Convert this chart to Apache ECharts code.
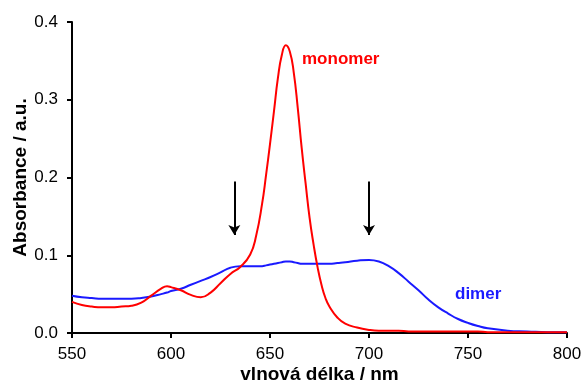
<!DOCTYPE html>
<html>
<head>
<meta charset="utf-8">
<script src="https://cdn.jsdelivr.net/npm/echarts@6/dist/echarts.min.js"></script>
<style>
  html, body { margin: 0; padding: 0; background: #fff; }
  #chart { width: 582px; height: 387px; }
</style>
</head>
<body>
<div id="chart"></div>
<script>
// wavelengths (nm) and absorbance
var wavelength = [550,555,560,565,570,575,580,585,590,595,598,600,605,610,615,620,625,630,635,640,
                  643,646,648,650,652,654,656,658,660,662,664,666,668,670,672,674,676,678,680,684,
                  688,694,700,705,710,715,720,725,730,735,740,745,750,755,760,770,780,790,800];
var monomer = [0.040,0.036,0.034,0.033,0.033,0.034,0.035,0.039,0.048,0.057,0.060,0.059,0.055,0.049,0.046,0.052,0.064,0.076,0.085,0.101,
               0.125,0.166,0.203,0.243,0.285,0.328,0.358,0.370,0.362,0.335,0.290,0.238,0.192,0.148,0.114,0.085,0.062,0.045,0.034,0.020,
               0.012,0.007,0.004,0.003,0.003,0.003,0.002,0.002,0.002,0.002,0.002,0.002,0.002,0.002,0.001,0.001,0.001,0.001,0.001];
var dimer = [0.048,0.046,0.045,0.044,0.044,0.044,0.044,0.045,0.047,0.050,0.052,0.054,0.057,0.062,0.067,0.072,0.078,0.084,0.086,0.086,
             0.086,0.086,0.087,0.088,0.089,0.090,0.091,0.092,0.092,0.091,0.090,0.089,0.089,0.089,0.089,0.089,0.089,0.089,0.089,0.090,
             0.091,0.093,0.094,0.092,0.086,0.077,0.066,0.055,0.043,0.033,0.025,0.018,0.013,0.009,0.006,0.003,0.002,0.001,0.001];
var xTicks = [550, 800, 50];
var yTicks = [0, 0.4, 0.1];
// arrows: wavelength, top, tip
var arrows = [[632, 0.195, 0.126], [700, 0.195, 0.126]];

function pairs(xs, ys) {
  var out = [];
  for (var i = 0; i < xs.length; i++) out.push([xs[i], ys[i]]);
  return out;
}

var myChart = echarts.init(document.getElementById('chart'), null, { renderer: 'canvas' });
var font = 'Liberation Sans, Arial, sans-serif';

var arrowLines = arrows.map(function (a) {
  return [{ coord: [a[0], a[1]] }, { coord: [a[0], a[2]] }];
});

var option = {
  animation: false,
  backgroundColor: '#fff',
  grid: { left: 72, right: 15, top: 22, bottom: 54, containLabel: false, outerBoundsMode: 'none' },
  xAxis: {
    type: 'value',
    min: xTicks[0], max: xTicks[1], interval: xTicks[2],
    name: 'vlnová délka / nm',
    nameLocation: 'middle',
    nameGap: 32,
    nameMoveOverlap: false,
    nameTextStyle: { fontFamily: font, fontWeight: 'bold', fontSize: 19, color: '#000' },
    axisLine: { lineStyle: { color: '#000', width: 2 } },
    axisTick: { show: true, length: 5, lineStyle: { color: '#000', width: 2 } },
    axisLabel: { fontFamily: font, fontSize: 17, color: '#000', margin: 13 },
    splitLine: { show: false }
  },
  yAxis: {
    type: 'value',
    min: yTicks[0], max: yTicks[1], interval: yTicks[2],
    name: 'Absorbance / a.u.',
    nameLocation: 'middle',
    nameGap: 42,
    nameMoveOverlap: false,
    nameTextStyle: { fontFamily: font, fontWeight: 'bold', fontSize: 19, color: '#000' },
    axisLine: { show: true, lineStyle: { color: '#000', width: 2 } },
    axisTick: { show: true, length: 5, lineStyle: { color: '#000', width: 2 } },
    axisLabel: {
      fontFamily: font, fontSize: 17, color: '#000', margin: 14,
      formatter: function (v) { return v.toFixed(1); }
    },
    splitLine: { show: false }
  },
  graphic: [
    { type: 'text', left: 302, top: 51,
      style: { text: 'monomer', fill: '#ff0000', font: 'bold 17px ' + font } },
    { type: 'text', left: 455, top: 286,
      style: { text: 'dimer', fill: '#1a1aff', font: 'bold 17px ' + font } }
  ],
  series: [
    {
      name: 'dimer',
      type: 'line',
      data: pairs(wavelength, dimer),
      smooth: 0.5,
      symbol: 'none',
      lineStyle: { color: '#1a1aff', width: 2 },
      z: 2
    },
    {
      name: 'monomer',
      type: 'line',
      data: pairs(wavelength, monomer),
      smooth: 0.5,
      symbol: 'none',
      lineStyle: { color: '#ff0000', width: 2 },
      z: 3,
      markLine: {
        silent: true,
        symbol: ['none', 'arrow'],
        symbolSize: [9, 10],
        label: { show: false },
        lineStyle: { color: '#000', width: 2, type: 'solid' },
        data: arrowLines
      }
    }
  ]
};

myChart.setOption(option, true);
</script>
</body>
</html>
